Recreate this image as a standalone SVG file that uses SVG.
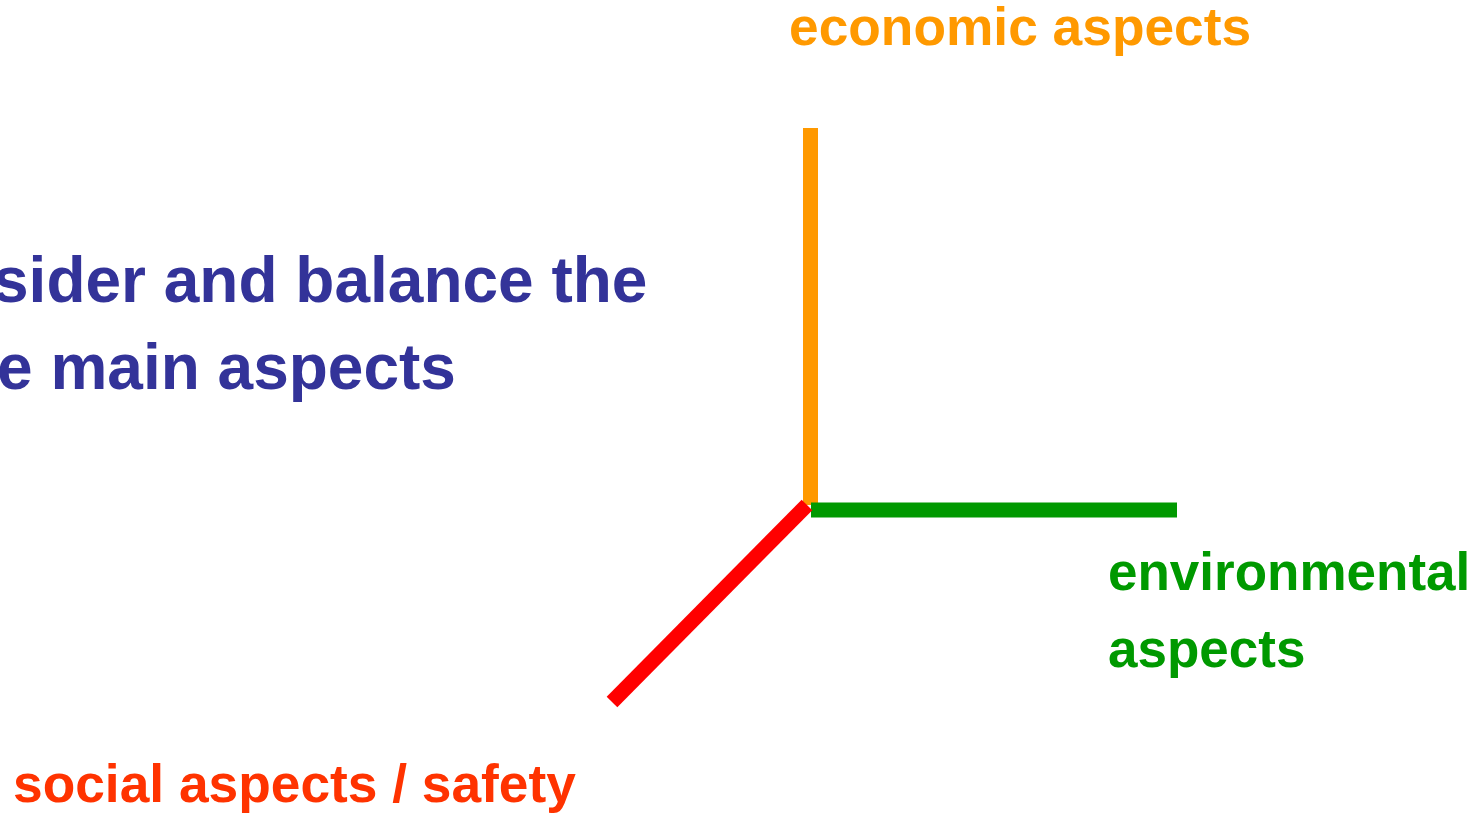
<svg xmlns="http://www.w3.org/2000/svg" width="1482" height="813" viewBox="0 0 1482 813">
<style>
text{font-family:"Liberation Sans",Arial,sans-serif;font-weight:bold}
.title{fill:#333399;font-size:64px}
.eco{fill:#FF9900;font-size:53.3px}
.env{fill:#009900;font-size:53px}
.soc{fill:#FF3300;font-size:53.3px}
.axis{fill:none;stroke-linecap:butt;stroke-width:15}
</style>
<rect width="1482" height="813" fill="#ffffff"/>
<g id="connectors">
<line class="axis" x1="810.5" y1="128" x2="810.5" y2="505" stroke="#FF9900"/>
<line class="axis" x1="811" y1="510" x2="1177" y2="510" stroke="#009900"/>
<line class="axis" x1="807" y1="505" x2="612" y2="702" stroke="#FF0000"/>
</g>
<g id="title"><text class="title" x="-7" y="302">sider and balance the</text><text class="title" x="-3" y="389">e main aspects</text></g>
<g id="economic"><text class="eco" x="789" y="45">economic aspects</text></g>
<g id="environmental"><text class="env" x="1108" y="590">environmental</text><text class="env" x="1108" y="667">aspects</text></g>
<g id="social"><text class="soc" x="13" y="802">social aspects / safety</text></g>
</svg>
